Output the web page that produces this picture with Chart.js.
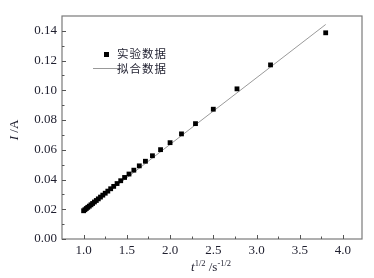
<!DOCTYPE html>
<html>
<head>
<meta charset="utf-8">
<script src="https://cdn.jsdelivr.net/npm/chart.js@4/dist/chart.umd.min.js"></script>
<style>
    body { margin: 0; background: #fff; }
    #wrap { position: relative; width: 374px; height: 278px; }
    #chart { position: absolute; left: 0; top: 0; }
    .lab { position: absolute; font-family: "Liberation Serif", serif; color: #1e1e2e; white-space: nowrap; }
    .lab sup { font-size: 8.5px; vertical-align: 5px; }
    .leg { position: absolute; font-family: "Noto Sans CJK SC", sans-serif; font-size: 11.5px; letter-spacing: 1px; color: #1e1e2e; line-height: 14px; }
</style>
</head>
<body>
<div id="wrap">
    <canvas id="chart" width="374" height="278"></canvas>
    <div class="lab" id="xtitle" style="left:191px; top:258px; font-size:13px;"><i>t</i><sup>1/2</sup> /s<sup>-1/2</sup></div>
    <div class="lab" id="ytitle" style="left:4px; top:122px; font-size:13px; transform: rotate(-90deg);"><i>I</i> /A</div>
    <div style="position:absolute; left:104px; top:52px; width:5px; height:5px; background:#000;"></div>
    <div style="position:absolute; left:93px; top:68px; width:26px; height:0; border-top:1px solid #999;"></div>
    <div class="leg" style="left:117px; top:46px;">实验数据</div>
    <div class="leg" style="left:117px; top:61px;">拟合数据</div>
</div>
<script>
// experimental points (t^1/2 in s^-1/2, I in A)
const expX = [1.000, 1.015, 1.031, 1.048, 1.066, 1.085, 1.104, 1.125, 1.147, 1.170,
    1.195, 1.222, 1.250, 1.280, 1.313, 1.348, 1.387, 1.429, 1.474, 1.525,
    1.581, 1.644, 1.715, 1.796, 1.890, 2.000, 2.132, 2.294, 2.500, 2.774,
    3.162, 3.800];
const expY = [0.0190, 0.0197, 0.0205, 0.0213, 0.0221, 0.0230, 0.0239, 0.0249, 0.0259, 0.0270,
    0.0282, 0.0295, 0.0308, 0.0322, 0.0338, 0.0354, 0.0373, 0.0392, 0.0414, 0.0437,
    0.0463, 0.0492, 0.0523, 0.0560, 0.0601, 0.0648, 0.0707, 0.0776, 0.0873, 0.1010,
    0.1171, 0.1387];

// fitted line
const fitX = [1.0, 3.80];
const fitY = [0.0188, 0.1443];

const xMajor = [1.0, 1.5, 2.0, 2.5, 3.0, 3.5, 4.0];
const xMinor = [1.25, 1.75, 2.25, 2.75, 3.25, 3.75];
const yMajor = [0, 0.02, 0.04, 0.06, 0.08, 0.10, 0.12, 0.14];
const yMinor = [0.01, 0.03, 0.05, 0.07, 0.09, 0.11, 0.13];

const textColor = "#1e1e2e";
const tickFont = { family: "Liberation Serif", size: 13 };

const framePlugin = {
    id: "frame",
    afterDraw(chart) {
        const ctx = chart.ctx;
        const a = chart.chartArea;
        const xs = chart.scales.x;
        const ys = chart.scales.y;
        ctx.save();
        ctx.strokeStyle = "#7a7a7a";
        ctx.lineWidth = 1.2;
        ctx.strokeRect(a.left, a.top, a.right - a.left, a.bottom - a.top);
        ctx.lineWidth = 1;
        ctx.strokeStyle = "#555";
        ctx.beginPath();
        xMajor.forEach((v) => {
            const px = Math.round(xs.getPixelForValue(v)) + 0.5;
            ctx.moveTo(px, a.bottom);
            ctx.lineTo(px, a.bottom - 4);
        });
        xMinor.forEach((v) => {
            const px = Math.round(xs.getPixelForValue(v)) + 0.5;
            ctx.moveTo(px, a.bottom);
            ctx.lineTo(px, a.bottom - 2.5);
        });
        yMajor.forEach((v) => {
            const py = Math.round(ys.getPixelForValue(v)) + 0.5;
            ctx.moveTo(a.left, py);
            ctx.lineTo(a.left + 4, py);
        });
        yMinor.forEach((v) => {
            const py = Math.round(ys.getPixelForValue(v)) + 0.5;
            ctx.moveTo(a.left, py);
            ctx.lineTo(a.left + 2.5, py);
        });
        ctx.stroke();
        ctx.restore();
    },
};

new Chart(document.getElementById("chart"), {
    type: "scatter",
    data: {
        datasets: [
            {
                label: "实验数据",
                data: expX.map((x, i) => ({ x: x, y: expY[i] })),
                pointStyle: "rect",
                pointRadius: 3.4,
                backgroundColor: "#000",
                borderWidth: 0,
                order: 0,
            },
            {
                label: "拟合数据",
                type: "line",
                data: fitX.map((x, i) => ({ x: x, y: fitY[i] })),
                borderColor: "#9a9a9a",
                borderWidth: 1,
                pointRadius: 0,
                fill: false,
                order: 1,
            },
        ],
    },
    options: {
        responsive: false,
        animation: false,
        devicePixelRatio: 1,
        layout: { padding: { top: 16, right: 12, left: 0, bottom: 0 } },
        plugins: {
            legend: { display: false },
            tooltip: { enabled: false },
        },
        scales: {
            x: {
                type: "linear",
                min: 0.75,
                max: 4.22,
                grid: { display: false, drawTicks: false },
                border: { display: false },
                afterBuildTicks: (s) => {
                    s.ticks = xMajor.map((v) => ({ value: v }));
                },
                afterFit: (s) => {
                    s.height = 39;
                },
                ticks: {
                    font: tickFont,
                    color: textColor,
                    padding: 4,
                    maxRotation: 0,
                    autoSkip: false,
                    callback: (v) => Number(v).toFixed(1),
                },
            },
            y: {
                min: 0,
                max: 0.15,
                grid: { display: false, drawTicks: false },
                border: { display: false },
                afterBuildTicks: (s) => {
                    s.ticks = yMajor.map((v) => ({ value: v }));
                },
                afterFit: (s) => {
                    s.width = 62;
                },
                ticks: {
                    font: tickFont,
                    color: textColor,
                    padding: 5,
                    autoSkip: false,
                    callback: (v) => Number(v).toFixed(2),
                },
            },
        },
    },
    plugins: [framePlugin],
});
</script>
</body>
</html>
